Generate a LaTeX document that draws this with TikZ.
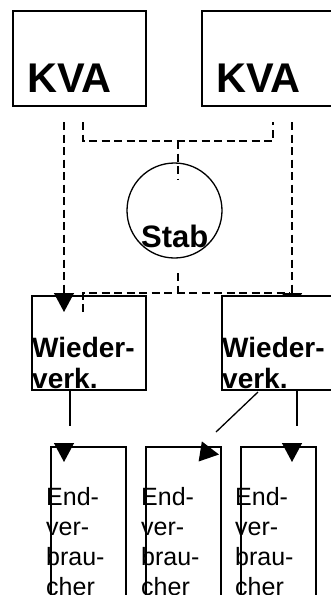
\documentclass[tikz,border=0pt]{standalone}
\usepackage{fontspec}
\setmainfont{Liberation Sans}
\usetikzlibrary{arrows.meta}
\begin{document}
\begin{tikzpicture}[x=1pt,y=-1pt,
  lw/.style={line width=1.3pt},
  boxnode/.style={draw,lw,inner sep=0pt,rectangle},
  dashline/.style={lw,dash pattern=on 8pt off 4.5pt},
  tip/.style={-{Triangle[length=19pt,width=20pt]}},
  kvatext/.style={anchor=base west,inner sep=0pt,font=\fontsize{41.5}{48}\selectfont\bfseries},
  stabtext/.style={anchor=base west,inner sep=0pt,font=\fontsize{31}{36}\selectfont\bfseries},
  wvtext/.style={anchor=base west,inner sep=0pt,font=\fontsize{28}{31}\selectfont\bfseries},
  endtext/.style={anchor=base west,inner sep=0pt,font=\fontsize{25}{30}\selectfont}]
\useasboundingbox (0,0) rectangle (331,595);
\clip (0,0) rectangle (331,595);
% top boxes
\node[boxnode,minimum width=133pt,minimum height=95pt] (kva1) at (79.5,58.5) {};
\node[boxnode,minimum width=143pt,minimum height=95pt] (kva2) at (273.5,58.5) {};
\node[kvatext] (t1) at (27,92) {KVA};
\node[kvatext] (t2) at (216,92) {KVA};
% Stab
\node[draw,lw,circle,minimum size=95pt,inner sep=0pt] (stab) at (174.5,210.5) {};
\node[stabtext] (ts) at (141,247) {Stab};
% left Wiederverk box (unfilled)
\node[boxnode,minimum width=114pt,minimum height=94pt] (ww1) at (89,343) {};
% coordinates
\coordinate (a1) at (64,122);  \coordinate (a1e) at (64,312);
\coordinate (b1) at (83,122);  \coordinate (b2) at (83,141);
\coordinate (b3) at (273,141); \coordinate (b4) at (273,122);
\coordinate (c1) at (178,141); \coordinate (c2) at (178,179);
\coordinate (d1) at (178,273); \coordinate (d2) at (178,293);
\coordinate (e1) at (83,312);  \coordinate (e2) at (83,293); \coordinate (e3) at (290,293);
\coordinate (f1) at (292,122); \coordinate (f1e) at (292,312);
% dashed connectors
\draw[dashline,tip] (a1) -- (a1e);
\draw[dashline] (b1) -- (b2) -- (b3) -- (b4);
\draw[dashline] (c1) -- (c2);
\draw[dashline] (d1) -- (d2);
\draw[dashline] (e1) -- (e2) -- (e3);
\draw[dashline,tip] (f1) -- (f1e);
% right Wiederverk box (filled, on top)
\node[boxnode,fill=white,minimum width=118pt,minimum height=94pt] (ww2) at (281,343) {};
\node[wvtext] (w1) at (32,357) {\begin{tabular}[t]{@{}l@{}}Wieder-\\verk.\end{tabular}};
\node[wvtext] (w2) at (222,357) {\begin{tabular}[t]{@{}l@{}}Wieder-\\verk.\end{tabular}};
% end boxes
\node[boxnode,minimum width=75pt,minimum height=173pt] (en1) at (88.5,533.5) {};
\node[boxnode,minimum width=75pt,minimum height=173pt] (en2) at (183.5,533.5) {};
\node[boxnode,minimum width=75pt,minimum height=173pt] (en3) at (278.5,533.5) {};
\node[endtext] (x1) at (46,505) {\begin{tabular}[t]{@{}l@{}}End-\\ver-\\brau-\\cher\end{tabular}};
\node[endtext] (x2) at (141,505) {\begin{tabular}[t]{@{}l@{}}End-\\ver-\\brau-\\cher\end{tabular}};
\node[endtext] (x3) at (235,505) {\begin{tabular}[t]{@{}l@{}}End-\\ver-\\brau-\\cher\end{tabular}};
% solid connectors
\coordinate (g1) at (70,390);  \coordinate (g2) at (70,426);
\coordinate (h1) at (258,392); \coordinate (h2) at (216,432);
\coordinate (k1) at (297,390); \coordinate (k2) at (297,426);
\draw[lw] (g1) -- (g2);
\draw[lw] (h1) -- (h2);
\draw[lw] (k1) -- (k2);
% arrowheads into end boxes
\coordinate (p1) at (64,443);  \coordinate (p1e) at (64,462);
\coordinate (p2) at (200.5,451.5); \coordinate (p2e) at (219,454.5);
\coordinate (p3) at (292,443); \coordinate (p3e) at (292,462);
\draw[lw,tip] (p1) -- (p1e);
\draw[lw,tip] (p2) -- (p2e);
\draw[lw,tip] (p3) -- (p3e);
\end{tikzpicture}
\end{document}
